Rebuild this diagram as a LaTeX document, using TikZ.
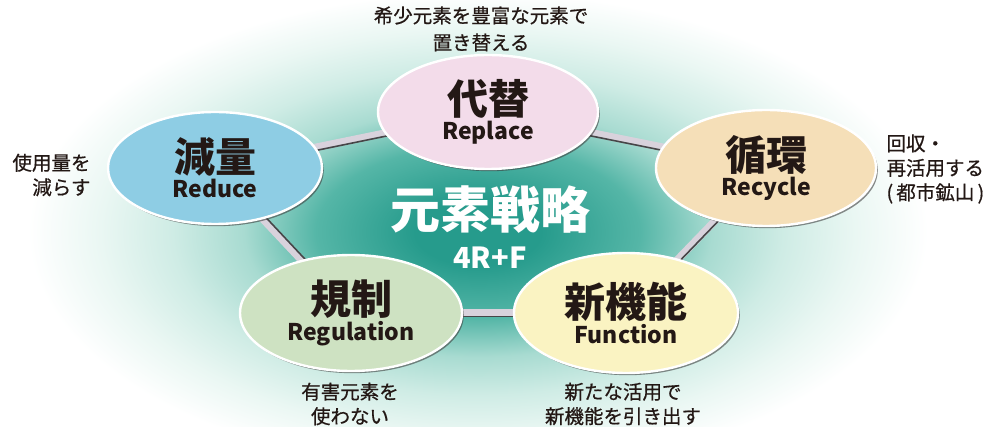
\documentclass[tikz,border=0pt]{standalone}
\usepackage{fontspec}
\setmainfont{Noto Sans CJK JP}
\newfontfamily\notefont{Noto Sans CJK JP}[RawFeature={embolden=0.6}]
\usetikzlibrary{shapes.geometric,shadows}
\pgfdeclarelayer{back}
\pgfdeclarelayer{bg}
\pgfsetlayers{back,bg,main}
\definecolor{pinkc}{RGB}{243,220,234}
\definecolor{bluec}{RGB}{142,205,228}
\definecolor{orangec}{RGB}{245,223,184}
\definecolor{greenc}{RGB}{206,226,194}
\definecolor{yellowc}{RGB}{250,243,194}
\definecolor{txt}{RGB}{35,24,21}
\definecolor{tealA}{RGB}{38,155,140}
\definecolor{tealB}{RGB}{85,182,167}
\definecolor{tealC}{RGB}{168,219,209}
\definecolor{tealD}{RGB}{207,236,229}
\definecolor{tealE}{RGB}{234,247,243}
\definecolor{bandc}{RGB}{216,210,220}
\definecolor{bandedge}{RGB}{70,70,72}
\pgfdeclareradialshading{tealglow}{\pgfpoint{0bp}{0bp}}{color(0bp)=(tealA); color(3.5bp)=(tealA); color(9bp)=(tealB); color(13bp)=(tealC); color(17bp)=(tealD); color(21bp)=(tealE); color(25bp)=(white); color(50bp)=(white)}
\begin{document}
\begin{tikzpicture}[x=1pt,y=-1pt,
  bub/.style={ellipse, draw=white, line width=2.4pt, inner sep=0pt, align=center, text=txt,
    font=\bfseries,
    drop shadow={shadow xshift=1.8pt, shadow yshift=-2.2pt, opacity=.6, fill=black!75}},
  band/.style={draw=bandc, line width=7.5pt},
  bandline/.style={draw=bandedge, line width=1.6pt},
  note/.style={text=txt, font=\notefont\fontsize{19.5}{24.5}\selectfont}]
\useasboundingbox (0,0) rectangle (987,427);
\begin{pgfonlayer}{back}
  \fill[white] (0,0) rectangle (987,427);
  \shade[shading=tealglow] (478,232) ellipse [x radius=450, y radius=240];
\end{pgfonlayer}

\node[bub, fill=pinkc, minimum width=220pt, minimum height=114pt] (replace) at (488,112)
  {\fontsize{41}{41}\selectfont 代替\\[2pt]\fontsize{23}{28}\selectfont Replace};
\node[bub, fill=bluec, minimum width=214pt, minimum height=112pt] (reduce) at (215,168)
  {\fontsize{41}{41}\selectfont 減量\\[2pt]\fontsize{23}{28}\selectfont Reduce};
\node[bub, fill=orangec, minimum width=220pt, minimum height=116pt] (recycle) at (766,168)
  {\fontsize{41}{41}\selectfont 循環\\[2pt]\fontsize{23}{28}\selectfont Recycle};
\node[bub, fill=greenc, minimum width=222pt, minimum height=116pt] (regulation) at (351,313)
  {\fontsize{41}{41}\selectfont 規制\\[2pt]\fontsize{23}{28}\selectfont Regulation};
\node[bub, fill=yellowc, minimum width=224pt, minimum height=120pt] (function) at (626,313)
  {\fontsize{41}{41}\selectfont 新機能\\[2pt]\fontsize{23}{28}\selectfont Function};

\begin{pgfonlayer}{bg}
  \draw[band] (reduce.center) -- (replace.center);
  \draw[band] (replace.center) -- (recycle.center);
  \draw[band] (recycle.center) -- (function.center);
  \draw[band] (function.center) -- (regulation.center);
  \draw[band] (regulation.center) -- (reduce.center);
  \draw[bandline, transform canvas={yshift=-3.2pt}] (reduce.center) -- (replace.center);
  \draw[bandline, transform canvas={yshift=-3.2pt}] (replace.center) -- (recycle.center);
  \draw[bandline, transform canvas={xshift=3.5pt}] (recycle.center) -- (function.center);
  \draw[bandline, transform canvas={yshift=-3.6pt}] (function.center) -- (regulation.center);
  \draw[bandline, transform canvas={xshift=4.5pt}] (regulation.center) -- (reduce.center);
\end{pgfonlayer}

\node[text=white, align=center, font=\bfseries] (core) at (490,227)
  {\fontsize{50}{50}\selectfont 元素戦略\\[13pt]\fontsize{29}{30}\selectfont 4R+F};

\node[note, align=center, font=\notefont\fontsize{19.5}{27}\selectfont] (nreplace) at (481,29) {希少元素を豊富な元素で\\置き替える};
\node[note, align=right, anchor=east] (nreduce) at (94,175) {使用量を\\減らす};
\node[note, align=left, anchor=west] (nrecycle) at (883,169) {回収・\\再活用する\\(\,都市鉱山\,)};
\node[note, align=center] (nregulation) at (350,404) {有害元素を\\使わない};
\node[note, align=center] (nfunction) at (623,404) {新たな活用で\\新機能を引き出す};
\end{tikzpicture}
\end{document}
